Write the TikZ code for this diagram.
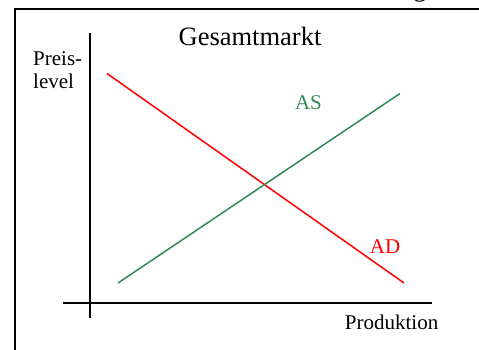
\documentclass[tikz,border=0pt]{standalone}
\usepackage{fontspec}
\setmainfont{Liberation Serif}
\definecolor{asgreen}{RGB}{46,139,87}
\definecolor{adred}{RGB}{255,0,0}
\begin{document}
\begin{tikzpicture}[x=1pt,y=-1pt,
  frame/.style={line width=2pt,black},
  axis/.style={line width=2pt,black},
  curve/.style={line width=1.5pt},
  lbl/.style={inner sep=0pt,font=\fontsize{21}{23}\selectfont},
  ttl/.style={inner sep=0pt,font=\fontsize{26.5}{30}\selectfont}]
\useasboundingbox (0,0) rectangle (479,349);
% frame
\coordinate (fbl) at (15,352);
\coordinate (ftl) at (15,9);
\coordinate (ftr) at (482,9);
\draw[frame] (fbl) -- (ftl) -- (ftr);
% cut-off text at top
\node[ttl,anchor=base] (cut) at (420,-3.7) {g};
% axes
\coordinate (yt) at (90,33);
\coordinate (yb) at (90,318);
\coordinate (xl) at (63,302.5);
\coordinate (xr) at (432,302.5);
\draw[axis] (yt) -- (yb);
\draw[axis] (xl) -- (xr);
% curves
\coordinate (ad1) at (107,73.5);
\coordinate (ad2) at (404,283);
\coordinate (as1) at (118,283);
\coordinate (as2) at (400,93.5);
\draw[curve,adred] (ad1) -- (ad2);
\draw[curve,asgreen] (as1) -- (as2);
% labels
\node[ttl,anchor=base] (title) at (250,45) {Gesamtmarkt};
\node[lbl,anchor=base west] (preis) at (33,65) {Preis-};
\node[lbl,anchor=base west] (level) at (33,88) {level};
\node[lbl,anchor=base,text=asgreen] (as) at (308.5,109) {AS};
\node[lbl,anchor=base,text=adred] (ad) at (385,253) {AD};
\node[lbl,anchor=base east] (prod) at (438.5,329) {Produktion};
\end{tikzpicture}
\end{document}
